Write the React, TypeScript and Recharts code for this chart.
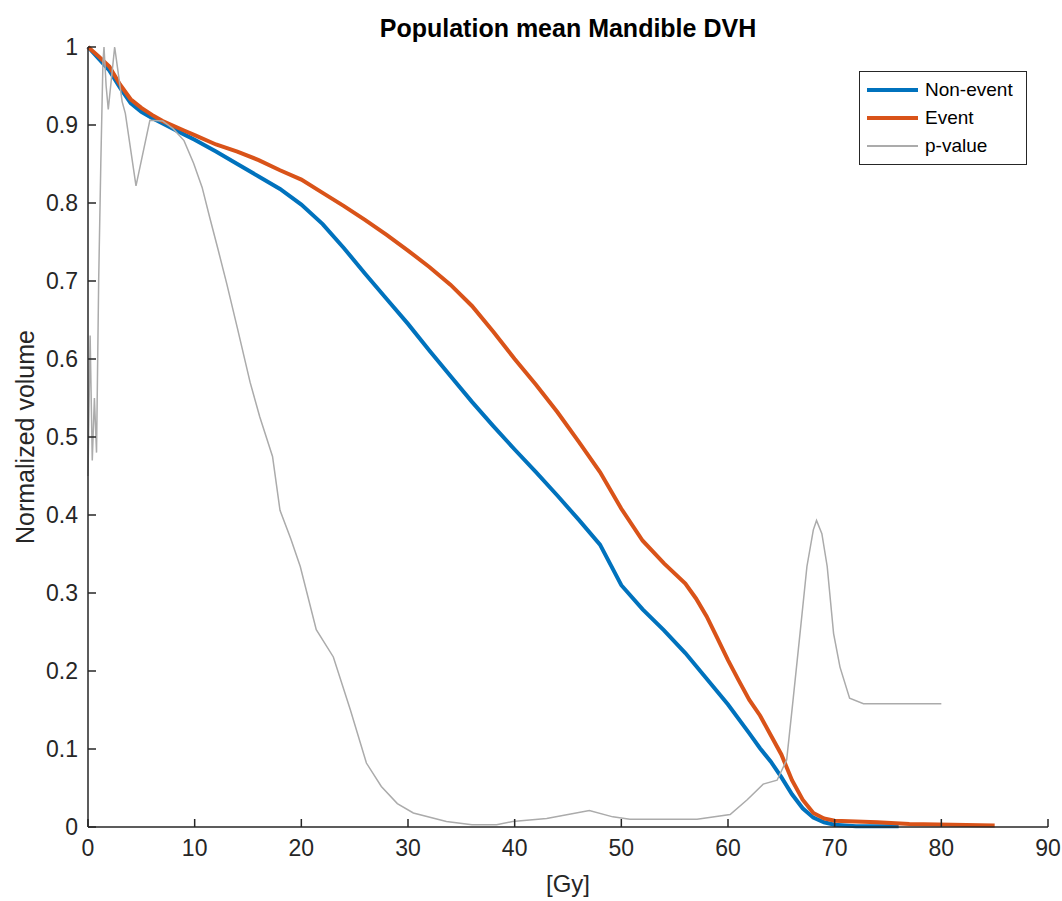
import React from 'react';
import { LineChart, Line, XAxis, YAxis, Legend } from 'recharts';

// dose grid [Gy] and mean normalized volume
const nonEventDose = [0, 1, 2, 3, 4, 5, 6, 7, 8, 9, 10, 12, 14, 16, 18, 20, 22, 24, 26, 28, 30, 32, 34, 36, 38, 40, 42, 44, 46, 48, 50, 52, 54, 56, 58, 60, 62, 63, 64, 65, 66, 67, 68, 69, 70, 72, 76];
const nonEventVolume = [1.0, 0.985, 0.97, 0.948, 0.928, 0.917, 0.909, 0.902, 0.895, 0.888, 0.881, 0.866, 0.85, 0.834, 0.818, 0.798, 0.773, 0.742, 0.709, 0.677, 0.645, 0.611, 0.578, 0.545, 0.514, 0.484, 0.455, 0.425, 0.394, 0.362, 0.31, 0.279, 0.252, 0.223, 0.19, 0.157, 0.12, 0.101, 0.084, 0.064, 0.042, 0.024, 0.012, 0.006, 0.003, 0.001, 0.001];

const eventDose = [0, 1, 2, 3, 4, 5, 6, 7, 8, 9, 10, 12, 14, 16, 18, 20, 22, 24, 26, 28, 30, 32, 34, 36, 38, 40, 42, 44, 46, 48, 50, 52, 54, 56, 57, 58, 59, 60, 61, 62, 63, 64, 65, 66, 67, 68, 69, 70, 74, 77, 85];
const eventVolume = [1.0, 0.988, 0.975, 0.952, 0.933, 0.922, 0.913, 0.905, 0.899, 0.893, 0.887, 0.875, 0.866, 0.855, 0.842, 0.83, 0.813, 0.796, 0.778, 0.759, 0.739, 0.718, 0.695, 0.668, 0.635, 0.6, 0.567, 0.532, 0.494, 0.455, 0.408, 0.367, 0.338, 0.312, 0.293, 0.27, 0.242, 0.214, 0.188, 0.163, 0.143, 0.118, 0.093, 0.06, 0.035, 0.018, 0.011, 0.008, 0.006, 0.004, 0.002];

const pValueDose = [0, 0.2, 0.4, 0.6, 0.8, 1.0, 1.2, 1.4, 1.5, 1.7, 1.9, 2.2, 2.5, 2.8, 3.2, 3.5, 4.5, 5.8, 7, 8, 9, 9.9, 10.7, 11.4, 12.2, 13, 14, 15.2, 16.1, 17.3, 18, 19, 19.9, 21.4, 23, 24.6, 26.1, 27.5, 29, 30.5, 33.6, 36, 38.3, 39.8, 43, 47, 49.2, 50.8, 57.1, 60.2, 61.8, 63.3, 64.6, 65.5, 66.1, 66.75, 67.4, 68, 68.3, 68.8, 69.3, 69.9, 70.5, 71.4, 72.7, 80];
const pValue = [0.45, 0.63, 0.47, 0.55, 0.48, 0.7, 0.85, 0.98, 1.0, 0.95, 0.92, 0.96, 1.0, 0.97, 0.93, 0.915, 0.822, 0.906, 0.905, 0.895, 0.88, 0.851, 0.82, 0.782, 0.74, 0.697, 0.64, 0.57, 0.526, 0.475, 0.406, 0.37, 0.334, 0.253, 0.218, 0.15, 0.082, 0.052, 0.03, 0.018, 0.007, 0.003, 0.003, 0.007, 0.011, 0.021, 0.013, 0.01, 0.01, 0.016, 0.035, 0.055, 0.06, 0.086, 0.163, 0.248, 0.334, 0.381, 0.393, 0.376, 0.334, 0.248, 0.205, 0.165, 0.158, 0.158];

const seriesNames = ['Non-event', 'Event', 'p-value'];
const xTicks = [0, 10, 20, 30, 40, 50, 60, 70, 80, 90];
const yTicks = [0, 0.1, 0.2, 0.3, 0.4, 0.5, 0.6, 0.7, 0.8, 0.9, 1];
const yTickLabels = ['0', '0.1', '0.2', '0.3', '0.4', '0.5', '0.6', '0.7', '0.8', '0.9', '1'];

const toPoints = (dose: number[], vals: number[]) => dose.map((d, i) => ({ dose: d, value: vals[i] }));

const FONT = '"Liberation Sans", Arial, sans-serif';
const AXIS = '#262626';

const LegendBox = (props: any) => {
  const items = [...(props.payload || [])].sort(
    (a: any, b: any) => seriesNames.indexOf(a.value) - seriesNames.indexOf(b.value)
  );
  return (
    <div
      style={{
        border: `1px solid ${AXIS}`,
        background: '#fff',
        width: 168,
        padding: '4px 0',
        fontFamily: FONT,
        fontSize: 19,
        color: '#000',
        boxSizing: 'border-box',
      }}
    >
      {items.map((entry: any) => (
        <div key={entry.value} style={{ display: 'flex', alignItems: 'center', height: 28 }}>
          <span
            style={{
              display: 'inline-block',
              marginLeft: 7,
              width: 51,
              height: entry.value === 'p-value' ? 1.5 : 4,
              background: entry.color,
            }}
          />
          <span style={{ marginLeft: 7 }}>{entry.value}</span>
        </div>
      ))}
    </div>
  );
};

const App: React.FC = () => {
  return (
    <div style={{ position: 'relative', width: 1062, height: 901, background: '#fff' }}>
      <style>{'body { margin: 0; }'}</style>
      <div
        style={{
          position: 'absolute',
          top: 13,
          left: 88,
          width: 960,
          textAlign: 'center',
          fontFamily: FONT,
          fontWeight: 'bold',
          fontSize: 25,
          lineHeight: '30px',
          color: '#000',
        }}
      >
        Population mean Mandible DVH
      </div>
      <LineChart width={1062} height={901} margin={{ top: 47, right: 14, bottom: 34, left: 28 }}>
        <XAxis
          dataKey="dose"
          type="number"
          domain={[0, 90]}
          ticks={xTicks}
          allowDuplicatedCategory={false}
          height={40}
          stroke={AXIS}
          strokeWidth={1.5}
          tickSize={-8}
          tickMargin={21}
          tick={{ fill: AXIS, fontSize: 23, fontFamily: FONT }}
          label={{ value: '[Gy]', position: 'bottom', offset: 8, fill: AXIS, fontSize: 24, fontFamily: FONT }}
        />
        <YAxis
          type="number"
          domain={[0, 1]}
          ticks={yTicks}
          tickFormatter={(v: number) => yTickLabels[yTicks.indexOf(v)] ?? String(v)}
          width={60}
          stroke={AXIS}
          strokeWidth={1.5}
          tickSize={-8}
          tickMargin={18}
          tick={{ fill: AXIS, fontSize: 23, fontFamily: FONT }}
          label={{
            value: 'Normalized volume',
            angle: -90,
            position: 'insideLeft',
            offset: -3,
            fill: AXIS,
            fontSize: 25,
            fontFamily: FONT,
            style: { textAnchor: 'middle' },
          }}
        />
        <Legend
          layout="vertical"
          align="center"
          verticalAlign="middle"
          content={<LegendBox />}
          wrapperStyle={{ top: 71, left: 859, width: 168 }}
        />
        <Line
          data={toPoints(nonEventDose, nonEventVolume)}
          dataKey="value"
          name="Non-event"
          stroke="#0072BD"
          strokeWidth={4}
          dot={false}
          type="linear"
          isAnimationActive={false}
        />
        <Line
          data={toPoints(eventDose, eventVolume)}
          dataKey="value"
          name="Event"
          stroke="#D95319"
          strokeWidth={4}
          dot={false}
          type="linear"
          isAnimationActive={false}
        />
        <Line
          data={toPoints(pValueDose, pValue)}
          dataKey="value"
          name="p-value"
          stroke="#ababab"
          strokeWidth={1.5}
          dot={false}
          type="linear"
          isAnimationActive={false}
        />
      </LineChart>
    </div>
  );
};

export default App;
